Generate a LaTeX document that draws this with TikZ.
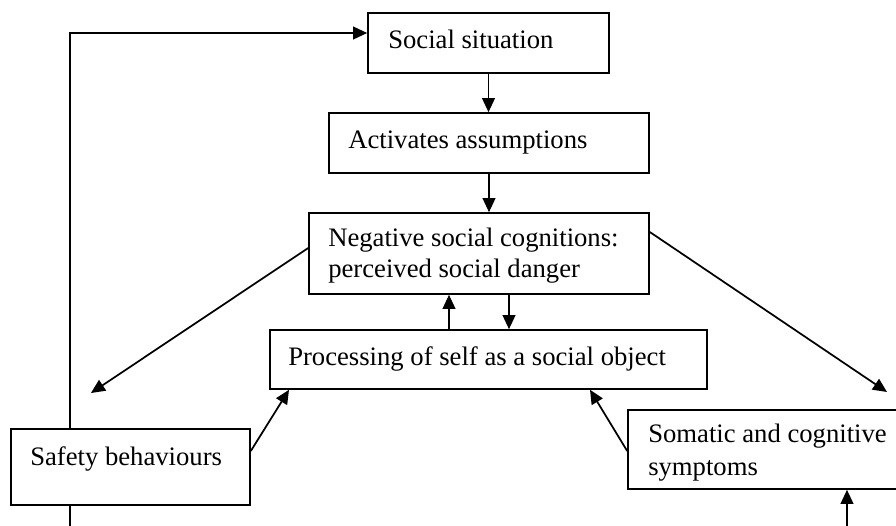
\documentclass[tikz,border=0pt]{standalone}
\usepackage{fontspec}
\setmainfont{Liberation Serif}
\usetikzlibrary{arrows.meta,fit}
\begin{document}
\begin{tikzpicture}[x=0.75pt,y=-0.75pt,
  boxnode/.style={draw=black, line width=1.2pt, inner sep=0pt},
  txt/.style={inner sep=0pt, anchor=base west, font=\fontsize{20}{24}\selectfont},
  conn/.style={line width=1.3pt},
  arr/.style={conn, -{Triangle[length=10.5pt,width=9.5pt]}}]
\useasboundingbox (0,0) rectangle (896,525);
\clip (0,0) rectangle (896,525);
% boxes
\node[boxnode, fit={(368,13)(609,73)}] (ss) {};
\node[boxnode, fit={(329,113)(649,173)}] (aa) {};
\node[boxnode, fit={(309,213)(649,294)}] (ng) {};
\node[boxnode, fit={(270,330)(707,389)}] (pr) {};
\node[boxnode, fit={(11,429)(250,505)}] (sb) {};
\node[boxnode, fit={(628,410)(930,489)}] (sm) {};
% texts
\node[txt] (tss) at (388,48) {Social situation};
\node[txt] (taa) at (348,148) {Activates assumptions};
\node[txt] (tng1) at (328,246) {Negative social cognitions:};
\node[txt] (tng2) at (328,277) {perceived social danger};
\node[txt] (tpr) at (288,365) {Processing of self as a social object};
\node[txt] (tsb) at (30,465) {Safety behaviours};
\node[txt] (tsm1) at (648,442) {Somatic and cognitive};
\node[txt] (tsm2) at (648,475) {symptoms};
% helper coordinates
\coordinate (c449) at (449,0);
\coordinate (c509) at (509,0);
\coordinate (c70) at (70,0);
\coordinate (c847) at (847,0);
\coordinate (v289) at (289,0);
\coordinate (v590) at (590,0);
\coordinate (h248) at (0,248);
\coordinate (h232) at (0,232);
\coordinate (h451) at (0,451);
\coordinate (h33) at (0,33);
\coordinate (hbot) at (0,560);
\coordinate (tipL) at (91,393);
\coordinate (tipR) at (887,392);
% connectors
\draw[arr] (ss.south) -- (ss.south |- aa.north);
\draw[arr] (aa.south) -- (aa.south |- ng.north);
\draw[arr] (pr.north -| c449) -- (ng.south -| c449);
\draw[arr] (ng.south -| c509) -- (pr.north -| c509);
\draw[arr] (ng.west |- h248) -- (tipL);
\draw[arr] (ng.east |- h232) -- (tipR);
\draw[arr] (sb.east |- h451) -- (pr.south -| v289);
\draw[arr] (sm.west |- h451) -- (pr.south -| v590);
\draw[arr] (sb.north -| c70) |- (ss.west |- h33);
\draw[arr] (sb.south -| c70) -- (c70 |- hbot) -| (sm.south -| c847);
\end{tikzpicture}
\end{document}
